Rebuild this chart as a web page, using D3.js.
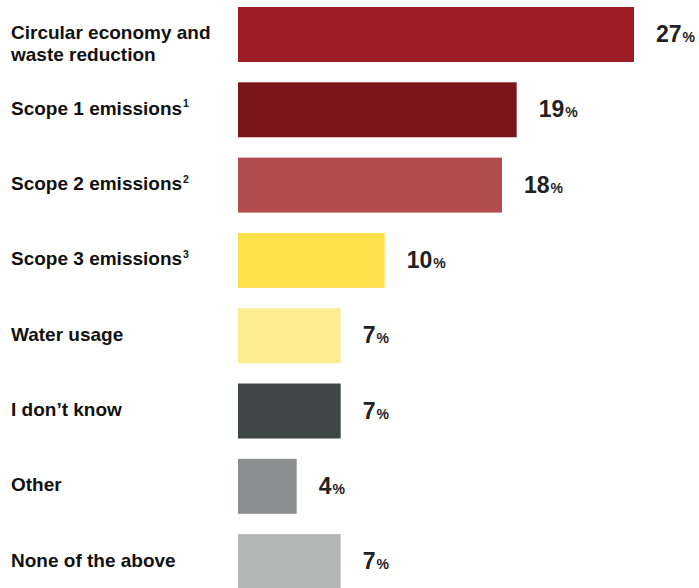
<!DOCTYPE html>
<html>
<head>
<meta charset="utf-8">
<script src="https://cdn.jsdelivr.net/npm/d3@7"></script>
<style>
  html, body { margin: 0; padding: 0; background: #ffffff; }
  svg { display: block; }
</style>
</head>
<body>
<div id="chart"></div>
<script>
// Survey answers, shares in percent
const categories = [
  "Circular economy and|waste reduction",
  "Scope 1 emissions",
  "Scope 2 emissions",
  "Scope 3 emissions",
  "Water usage",
  "I don\u2019t know",
  "Other",
  "None of the above"
];
const values = [27, 19, 18, 10, 7, 7, 4, 7];
const footnotes = ["", "1", "2", "3", "", "", "", ""];
const colors = ["#9d1d24", "#7a151a", "#b04b4e", "#fde04b", "#fdec90", "#3e4746", "#8c8f8f", "#b4b6b5"];

const width = 699, height = 588;

const svg = d3.select("#chart").append("svg")
  .attr("width", width)
  .attr("height", height);

const rows = categories.map((c, i) => ({
  key: c, lines: c.split("|"), value: values[i], note: footnotes[i], color: colors[i]
}));

const x = d3.scaleLinear().domain([0, 27]).range([238, 634]);
const y = d3.scaleBand()
  .domain(categories)
  .range([7, 589.1])
  .paddingInner(0.27)
  .paddingOuter(0);

// Bars
svg.append("g").selectAll("rect")
  .data(rows)
  .join("rect")
  .attr("x", x(0))
  .attr("y", d => y(d.key))
  .attr("width", d => x(d.value) - x(0))
  .attr("height", y.bandwidth())
  .attr("fill", d => d.color);

// Category labels
const labels = svg.append("g")
  .attr("font-family", "'Liberation Sans', Arial, Helvetica, sans-serif")
  .attr("font-weight", "bold")
  .attr("font-size", 19)
  .attr("fill", "#111111");

rows.forEach(d => {
  const cy = y(d.key) + y.bandwidth() / 2;
  const first = cy + 5 - (d.lines.length - 1) * 0.5;
  const t = labels.append("text").attr("x", 11).attr("y", first);
  d.lines.forEach((line, j) => {
    t.append("tspan")
      .attr("x", 11)
      .attr("y", first + j * 22)
      .text(line);
    if (j === d.lines.length - 1 && d.note) {
      t.append("tspan")
        .attr("font-size", 10.5)
        .attr("dy", -7.5)
        .attr("dx", 1)
        .text(d.note);
    }
  });
});

// Value labels
const valueLabels = svg.append("g")
  .attr("font-family", "'Liberation Sans', Arial, Helvetica, sans-serif")
  .attr("font-weight", "bold")
  .attr("fill", "#222222");

rows.forEach(d => {
  const cy = y(d.key) + y.bandwidth() / 2;
  const t = valueLabels.append("text")
    .attr("x", x(d.value) + 22)
    .attr("y", cy + 7.5);
  t.append("tspan").attr("font-size", 23).text(d.value);
  t.append("tspan").attr("font-size", 14).attr("dx", 1).text("%");
});
</script>
</body>
</html>
